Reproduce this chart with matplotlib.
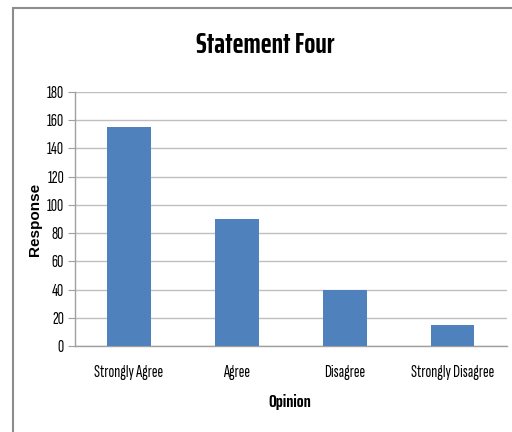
import matplotlib.pyplot as plt
from matplotlib.patches import Rectangle
import numpy as np

# --- Data ---
opinions = ['Strongly Agree', 'Agree', 'Disagree', 'Strongly Disagree']
responses = [155, 90, 40, 15]
y_ticks = list(range(0, 181, 20))

body_font = ['Sofia Sans Extra Condensed', 'Carlito', 'DejaVu Sans']
bold_font = ['Saira ExtraCondensed', 'Carlito', 'DejaVu Sans']
plt.rcParams['font.family'] = body_font

fig = plt.figure(figsize=(5.12, 4.32), dpi=100)
ax = fig.add_axes([0.1465, 0.199, 0.8435, 0.588])

x = np.arange(len(opinions))
ax.bar(x, responses, width=0.4, color='#4f81bd', zorder=3)

ax.set_xlim(-0.5, len(opinions) - 0.5)
ax.set_ylim(0, 180)
ax.set_yticks(y_ticks)
ax.set_xticks(x)
ax.set_xticklabels(opinions, fontsize=12.5)
ax.tick_params(axis='y', labelsize=12.5, length=5, color='#a0a0a0', pad=3)
ax.tick_params(axis='x', length=0, pad=14)
ax.grid(axis='y', color='#bfbfbf', linewidth=1, zorder=0)

for side in ['top', 'right']:
    ax.spines[side].set_visible(False)
for side in ['left', 'bottom']:
    ax.spines[side].set_color('#a0a0a0')
    ax.spines[side].set_linewidth(1)

ax.set_xlabel('Opinion', fontsize=13, fontweight='bold', family=bold_font)
ax.xaxis.set_label_coords(0.498, -0.19)
ax.set_ylabel('Response', fontsize=11, fontweight='bold',
              family=['Liberation Sans', 'DejaVu Sans'])
ax.yaxis.set_label_coords(-0.076, 0.5)
fig.text(0.518, 0.896, 'Statement Four', ha='center', va='center',
         fontsize=21, fontweight='bold', family=bold_font)

# outer chart frame
fig.patches.append(Rectangle((13 / 512, -0.1), 1.2, 1 - 8 / 432 + 0.1,
                             transform=fig.transFigure, fill=False,
                             edgecolor='#8c8c8c', linewidth=1.5))

fig.savefig('out.png', dpi=100)
